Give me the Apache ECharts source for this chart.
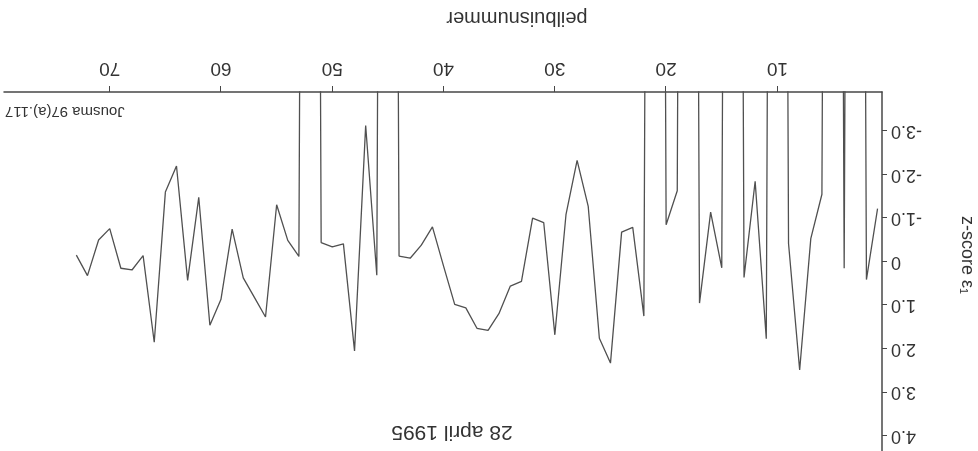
<!DOCTYPE html>
<html lang="nl">
<head>
<meta charset="utf-8">
<script src="https://cdn.jsdelivr.net/npm/echarts@6/dist/echarts.min.js"></script>
<style>
  html, body { margin: 0; height: 100%; background: #fff; }
  /* the reference sheet is scanned upside down */
  #chart { width: 978px; height: 451px; transform: rotate(180deg); }
</style>
</head>
<body>
<div id="chart"></div>
<script>
  // peilbuis numbers and z-score per pipe; OFF = far below the axis (line runs off the plot)
  const OFF = -60;
  const pipeNumbers = [1, 2, 3, 4, 5, 6, 7, 8, 9, 10, 11, 12, 13, 14, 15, 16, 17, 18, 19, 20,
    21, 22, 23, 24, 25, 26, 27, 28, 29, 30, 31, 32, 33, 34, 35, 36, 37, 38, 39, 40,
    41, 42, 43, 44, 45, 46, 47, 48, 49, 50, 51, 52, 53, 54, 55, 56, 57, 58, 59, 60,
    61, 62, 63, 64, 65, 66, 67, 68, 69, 70, 71, 72, 73];
  const zScores = [-1.22, 0.41, OFF, 0.15, OFF, -1.55, -0.53, 2.49, -0.42, OFF,
    1.77, -1.85, 0.36, OFF, 0.14, -1.14, 0.95, OFF, -1.63, -0.85,
    OFF, 1.25, -0.79, -0.68, 2.33, 1.76, -1.27, -2.33, -1.08, 1.68,
    -0.9, -1.0, 0.45, 0.56, 1.18, 1.58, 1.53, 1.06, 0.98, 0.1,
    -0.8, -0.38, -0.08, -0.13, OFF, 0.31, -3.13, 2.05, -0.41, -0.34,
    -0.44, OFF, -0.12, -0.49, -1.31, 1.27, 0.82, 0.37, -0.75, 0.86,
    1.46, -1.48, 0.43, -2.2, -1.6, 1.85, -0.14, 0.19, 0.15, -0.76,
    -0.5, 0.32, -0.15];
  const xTicks = [10, 20, 30, 40, 50, 60, 70];
  const yTicks = [-3, -2, -1, 0, 1, 2, 3, 4];

  const ink = '#474747';
  const font = '"Liberation Sans", Arial, "DejaVu Sans", sans-serif';

  var myChart = echarts.init(document.getElementById('chart'), null, { renderer: 'canvas' });

  var option = {
    animation: false,
    backgroundColor: '#fff',
    grid: { left: 96, right: 4, top: 0, bottom: 92 },
    xAxis: {
      type: 'value',
      min: 0.6,
      max: 79.5,
      splitLine: { show: false },
      axisLine: { onZero: false, lineStyle: { color: ink, width: 1.5 } },
      axisTick: { customValues: xTicks, length: 6, lineStyle: { color: ink } },
      axisLabel: { customValues: xTicks, margin: 14, fontSize: 19, fontFamily: font, color: '#333' }
    },
    yAxis: {
      type: 'value',
      min: -3.9,
      max: 4.35,
      splitLine: { show: false },
      axisLine: { show: true, onZero: false, lineStyle: { color: ink, width: 1.5 } },
      axisTick: { show: true, customValues: yTicks, length: 5, lineStyle: { color: ink } },
      axisLabel: {
        customValues: yTicks,
        margin: 9,
        fontSize: 18,
        fontFamily: font,
        color: '#333',
        formatter: v => v === 0 ? '0' : v.toFixed(1)
      }
    },
    series: [{
      type: 'line',
      data: pipeNumbers.map((p, i) => [p, zScores[i]]),
      showSymbol: false,
      clip: true,
      lineStyle: { color: '#505050', width: 1.3 }
    }],
    graphic: [
      { type: 'text', x: 526, y: 19, style: { text: '28 april 1995', font: '21px ' + font, fill: '#333', align: 'center', verticalAlign: 'middle' } },
      { type: 'text', x: 461, y: 433, style: { text: 'peilbuisnummer', font: '20px ' + font, fill: '#333', align: 'center', verticalAlign: 'middle' } },
      { type: 'text', x: 973, y: 340, style: { text: 'Jousma 97(a).117', font: '15px ' + font, fill: '#333', align: 'right', verticalAlign: 'middle' } },
      { type: 'text', x: 11, y: 196, rotation: Math.PI / 2, style: { text: 'z-score ε₁', font: '18px ' + font, fill: '#333', align: 'center', verticalAlign: 'middle' } }
    ]
  };

  myChart.setOption(option);
</script>
</body>
</html>
